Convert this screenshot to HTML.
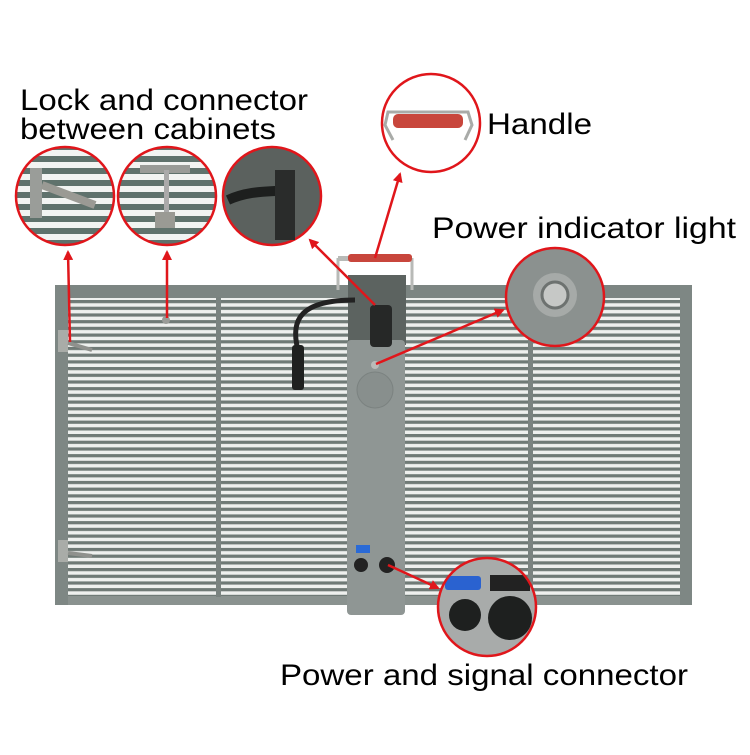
<!DOCTYPE html>
<html><head><style>html,body{margin:0;padding:0;background:#fff}</style></head>
<body>
<svg width="750" height="750" viewBox="0 0 750 750" xmlns="http://www.w3.org/2000/svg">
<defs>
<pattern id="ln" x="0" y="300" width="10" height="6.7" patternUnits="userSpaceOnUse">
<rect width="10" height="6.7" fill="#eef0ee"/><rect y="0" width="10" height="3.2" fill="#6f7a76"/>
</pattern>
<pattern id="ln2" x="0" y="0" width="10" height="12" patternUnits="userSpaceOnUse">
<rect width="10" height="12" fill="#f2f4f2"/><rect width="10" height="6" fill="#5f726c"/>
</pattern>
<marker id="ah" markerWidth="10" markerHeight="10" refX="8" refY="5" orient="auto" markerUnits="userSpaceOnUse">
<path d="M0,0 L10,5 L0,10 z" fill="#e0161b"/>
</marker>
<clipPath id="c1"><circle cx="65" cy="196" r="49"/></clipPath>
<clipPath id="c2"><circle cx="167" cy="196" r="49"/></clipPath>
<clipPath id="c6"><circle cx="487" cy="607" r="49"/></clipPath>
</defs>
<!-- panel -->
<rect x="55" y="285" width="637" height="320" fill="url(#ln)"/>
<rect x="55" y="285" width="637" height="13" fill="#7c8582"/>
<rect x="55" y="596" width="637" height="9" fill="#8a928f"/>
<rect x="55" y="285" width="13" height="320" fill="#7e8784"/>
<rect x="680" y="285" width="12" height="320" fill="#7e8784"/>
<rect x="216" y="297" width="5" height="300" fill="#7a8380"/>
<rect x="528" y="297" width="5" height="300" fill="#7a8380"/>
<!-- locks -->
<rect x="58" y="330" width="10" height="22" fill="#a9aca8"/>
<path d="M68,343 L92,350" stroke="#8f918d" stroke-width="4"/>
<rect x="58" y="540" width="10" height="22" fill="#a9aca8"/>
<path d="M68,553 L92,556" stroke="#8f918d" stroke-width="4"/>
<circle cx="166" cy="320" r="4" fill="#9a9c98"/>
<!-- control box -->
<path d="M338,258 L338,290 M412,258 L412,290" stroke="#b8bab7" stroke-width="3"/>
<rect x="338" y="256" width="74" height="5" fill="#b8bab7"/>
<rect x="348" y="254" width="64" height="8" rx="3" fill="#c8463c"/>
<rect x="348" y="275" width="58" height="70" fill="#5c6360"/>
<rect x="347" y="340" width="58" height="275" rx="4" fill="#8f9694"/>
<circle cx="375" cy="390" r="18" fill="#888f8d" stroke="#7b8280"/>
<circle cx="375" cy="365" r="4" fill="#b9bcb9"/>
<path d="M355,300 C300,300 290,320 298,350" stroke="#222" stroke-width="5" fill="none"/>
<rect x="292" y="345" width="12" height="45" rx="3" fill="#1f2120"/>
<rect x="370" y="305" width="22" height="42" rx="4" fill="#262827"/>
<rect x="356" y="545" width="14" height="8" fill="#2a6ad6"/>
<circle cx="361" cy="565" r="7" fill="#222"/><circle cx="387" cy="565" r="8" fill="#222"/>
<!-- circles -->
<g clip-path="url(#c1)"><rect x="15" y="146" width="100" height="100" fill="url(#ln2)"/>
<rect x="30" y="168" width="12" height="50" fill="#9a9d99"/><path d="M42,185 L95,205" stroke="#9a9a94" stroke-width="8"/></g>
<circle cx="65" cy="196" r="49" fill="none" stroke="#e0161b" stroke-width="2.5"/>
<g clip-path="url(#c2)"><rect x="117" y="146" width="100" height="100" fill="url(#ln2)"/>
<rect x="140" y="165" width="50" height="8" fill="#9a9c98"/><rect x="164" y="170" width="5" height="45" fill="#aaa"/><rect x="155" y="212" width="20" height="16" fill="#9a9a94"/></g>
<circle cx="167" cy="196" r="49" fill="none" stroke="#e0161b" stroke-width="2.5"/>
<circle cx="272" cy="196" r="49" fill="#5b615e" stroke="#e0161b" stroke-width="2.5"/>
<path d="M228,200 C250,190 270,192 290,190" stroke="#1d1f1e" stroke-width="10" fill="none"/>
<rect x="275" y="170" width="20" height="70" fill="#2a2c2b"/>
<circle cx="431" cy="123" r="49" fill="#fff" stroke="#e0161b" stroke-width="2.5"/>
<path d="M393,140 L385,125 L388,112 L468,112 L472,125 L465,140" stroke="#a9aba8" stroke-width="3" fill="none"/>
<rect x="393" y="114" width="70" height="14" rx="5" fill="#c8463c"/>
<circle cx="555" cy="297" r="49" fill="#8b918f" stroke="#e0161b" stroke-width="2.5"/>
<circle cx="555" cy="295" r="22" fill="#a6aaa8"/><circle cx="555" cy="295" r="13" fill="#c6c8c6" stroke="#6d7270" stroke-width="3"/>
<g clip-path="url(#c6)"><rect x="438" y="558" width="100" height="100" fill="#a8abaa"/>
<rect x="445" y="576" width="36" height="14" rx="3" fill="#2a62d0"/><rect x="490" y="575" width="40" height="16" fill="#222"/>
<circle cx="465" cy="615" r="16" fill="#1e201f"/><circle cx="510" cy="618" r="22" fill="#1e201f"/></g>
<circle cx="487" cy="607" r="49" fill="none" stroke="#e0161b" stroke-width="2.5"/>
<!-- arrows -->
<g stroke="#e0161b" stroke-width="2.5" fill="none">
<line x1="70" y1="342" x2="68" y2="252" marker-end="url(#ah)"/>
<line x1="167" y1="318" x2="167" y2="252" marker-end="url(#ah)"/>
<line x1="375" y1="305" x2="310" y2="240" marker-end="url(#ah)"/>
<line x1="375" y1="258" x2="400" y2="174" marker-end="url(#ah)"/>
<line x1="376" y1="364" x2="503" y2="310" marker-end="url(#ah)"/>
<line x1="388" y1="565" x2="438" y2="588" marker-end="url(#ah)"/>
</g>
<!-- text -->
<g font-family="Liberation Sans, sans-serif" font-size="30" fill="#000">
<text x="20" y="110" textLength="288" lengthAdjust="spacingAndGlyphs">Lock and connector</text>
<text x="20" y="139" textLength="256" lengthAdjust="spacingAndGlyphs">between cabinets</text>
<text x="487" y="134" textLength="105" lengthAdjust="spacingAndGlyphs">Handle</text>
<text x="432" y="238" textLength="304" lengthAdjust="spacingAndGlyphs">Power indicator light</text>
<text x="280" y="685" textLength="408" lengthAdjust="spacingAndGlyphs">Power and signal connector</text>
</g>
</svg>
</body></html>
